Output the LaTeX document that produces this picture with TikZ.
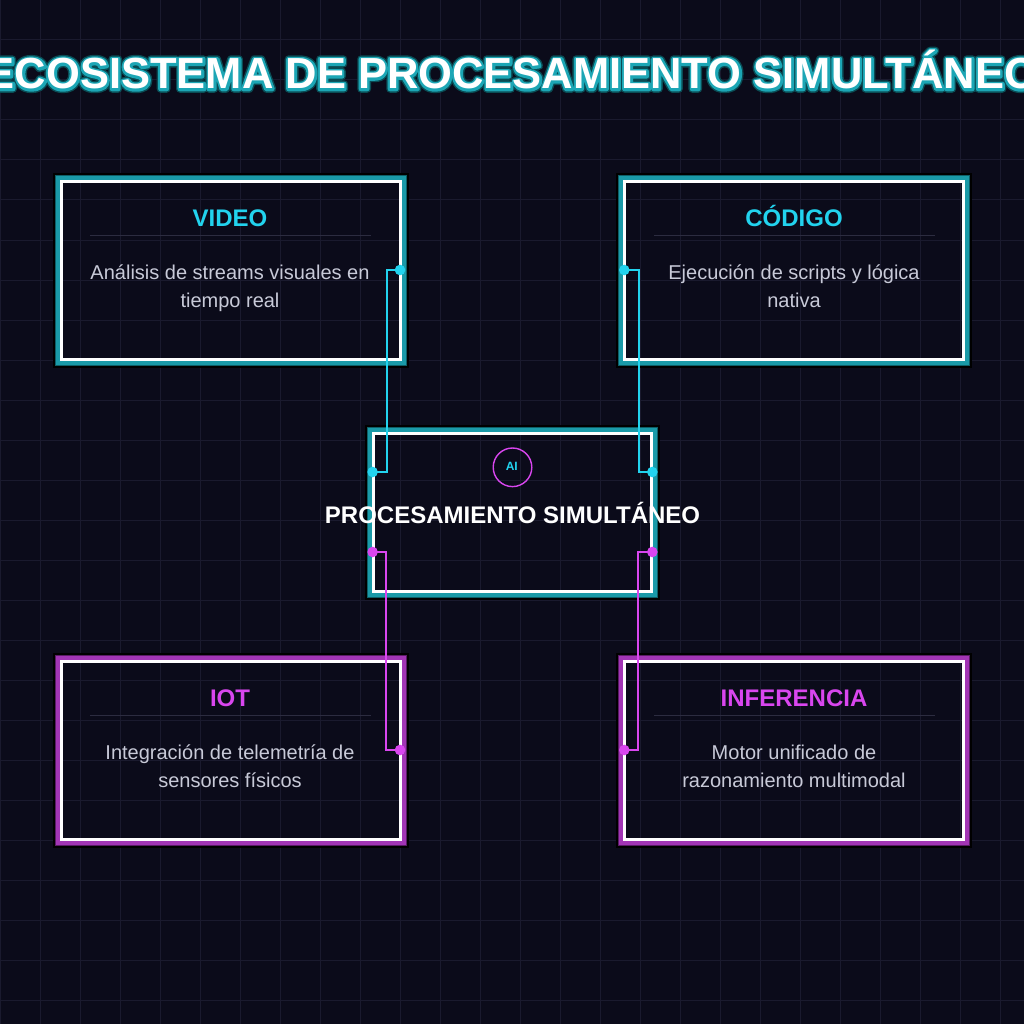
\documentclass[tikz,border=0pt]{standalone}
\usepackage{fontspec}
\setmainfont{Liberation Sans}
\usetikzlibrary{calc}
\definecolor{bg}{HTML}{0B0B1A}
\definecolor{gridc}{HTML}{1A1A2E}
\definecolor{cyanc}{HTML}{22D3EE}
\definecolor{magc}{HTML}{D946EF}
\definecolor{tealA}{HTML}{1A9AA8}
\definecolor{tealB}{HTML}{0E5F68}
\definecolor{magA}{HTML}{A235B5}
\definecolor{magB}{HTML}{5A1C66}
\definecolor{descc}{HTML}{C8CAD8}
\definecolor{divc}{HTML}{2C2C40}
\newcommand\mytitletext{ECOSISTEMA DE PROCESAMIENTO SIMULTÁNEO}
\newcommand\strokeonly[3]{\special{pdf:literal direct 1 Tr #1 w 1 j #2 RG}#3\special{pdf:literal direct 0 Tr 1 w}}
\newcommand\glowframe[3]{%
  \draw[black, line width=1.8pt] ([shift={(-6.2,-6.2)}]#1.north west) rectangle ([shift={(6.2,6.2)}]#1.south east);
  \draw[#3, line width=1.6pt] ([shift={(-4.6,-4.6)}]#1.north west) rectangle ([shift={(4.6,4.6)}]#1.south east);
  \draw[#2, line width=3.8pt] ([shift={(-1.9,-1.9)}]#1.north west) rectangle ([shift={(1.9,1.9)}]#1.south east);
  \draw[white, line width=3.3pt] ([shift={(1.65,1.65)}]#1.north west) rectangle ([shift={(-1.65,-1.65)}]#1.south east);
}
\tikzset{
  boxnode/.style={rectangle, draw=none, inner sep=0pt, outer sep=0pt},
  ttl/.style={font=\bfseries\fontsize{43.5}{44}\selectfont, anchor=base, inner sep=0pt},
  boxtitle/.style={font=\bfseries\fontsize{24}{24}\selectfont, anchor=base, inner sep=0pt},
  desctext/.style={font=\fontsize{20}{20}\selectfont, text=descc, anchor=base, inner sep=0pt},
  divline/.style={divc, line width=1pt},
  cdot/.style={circle, inner sep=0pt, minimum size=10.5pt},
  cline/.style={line width=2pt},
  gridline/.style={gridc, line width=1pt}
}
\begin{document}
\begin{tikzpicture}[x=1pt, y=-1pt]
\useasboundingbox (0,0) rectangle (1024,1024);
\clip (0,0) rectangle (1024,1024);
\fill[bg] (0,0) rectangle (1024,1024);
\foreach \k in {0,40,...,1000} {
  \draw[gridline] (\k,0) -- (\k,1024);
  \draw[gridline] (0,\k) -- (1024,\k);
}
% title with outline glow
\node[ttl, text=white] (titleglowouter) at (512,89) {\strokeonly{7.5}{0.04 0.30 0.33}{\mytitletext}};
\node[ttl, text=white] (titleglowinner) at (512,89) {\strokeonly{4.6}{0.11 0.65 0.71}{\mytitletext}};
\node[ttl, text=white] (title) at (512,89) {\mytitletext};

% boxes
\node[boxnode, minimum width=342pt, minimum height=181pt] (video) at (231,270.5) {};
\node[boxnode, minimum width=342pt, minimum height=181pt] (codigo) at (794,270.5) {};
\node[boxnode, minimum width=342pt, minimum height=181pt] (iot) at (231,750.5) {};
\node[boxnode, minimum width=342pt, minimum height=181pt] (infer) at (794,750.5) {};
\node[boxnode, minimum width=281pt, minimum height=161pt] (core) at (512.5,512.5) {};
\glowframe{video}{tealA}{tealB}
\glowframe{codigo}{tealA}{tealB}
\glowframe{iot}{magA}{magB}
\glowframe{infer}{magA}{magB}
\glowframe{core}{tealA}{tealB}

% box contents
\node[boxtitle, text=cyanc] (vt) at (230,226.7) {VIDEO};
\draw[divline] (90,235.5) -- (371,235.5);
\node[desctext] (vd1) at (230,279) {Análisis de streams visuales en};
\node[desctext] (vd2) at (230,307) {tiempo real};

\node[boxtitle, text=cyanc] (kt) at (794,226.7) {CÓDIGO};
\draw[divline] (654,235.5) -- (935,235.5);
\node[desctext] (kd1) at (794,279) {Ejecución de scripts y lógica};
\node[desctext] (kd2) at (794,307) {nativa};

\node[boxtitle, text=magc] (it) at (230,706.7) {IOT};
\draw[divline] (90,715.5) -- (371,715.5);
\node[desctext] (id1) at (230,759) {Integración de telemetría de};
\node[desctext] (id2) at (230,787) {sensores físicos};

\node[boxtitle, text=magc] (ft) at (794,706.7) {INFERENCIA};
\draw[divline] (654,715.5) -- (935,715.5);
\node[desctext] (fd1) at (794,759) {Motor unificado de};
\node[desctext] (fd2) at (794,787) {razonamiento multimodal};

% core contents
\node[circle, draw=magc, line width=1.4pt, minimum size=38.6pt, inner sep=0pt] (aicirc) at (512.5,467.3) {};
\node[font=\bfseries\fontsize{12}{12}\selectfont, text=cyanc, anchor=base, inner sep=0pt] (ailabel) at (511.8,470.8) {AI};
\node[boxtitle, text=white] (coret) at (512.5,523.5) {PROCESAMIENTO SIMULTÁNEO};

% connector dots
\node[cdot] (vdot) at (400,270) {};
\node[cdot] (c1) at (372.6,472) {};
\node[cdot] (kdot) at (624.3,270) {};
\node[cdot] (c2) at (652.3,472) {};
\node[cdot] (c3) at (372.6,552) {};
\node[cdot] (idot) at (400,750) {};
\node[cdot] (c4) at (652.3,552) {};
\node[cdot] (fdot) at (624.3,750) {};

% connectors
\draw[cline, cyanc] (vdot.center) -- ++(-13.5,0) |- (c1.center);
\draw[cline, cyanc] (kdot.center) -- ++(14.5,0) |- (c2.center);
\draw[cline, magc] (c3.center) -- ++(13.5,0) |- (idot.center);
\draw[cline, magc] (c4.center) -- ++(-14,0) |- (fdot.center);
\fill[cyanc] (vdot.center) circle (5.3);
\fill[cyanc] (c1.center) circle (5.3);
\fill[cyanc] (kdot.center) circle (5.3);
\fill[cyanc] (c2.center) circle (5.3);
\fill[magc] (c3.center) circle (5.3);
\fill[magc] (idot.center) circle (5.3);
\fill[magc] (c4.center) circle (5.3);
\fill[magc] (fdot.center) circle (5.3);
\end{tikzpicture}
\end{document}
